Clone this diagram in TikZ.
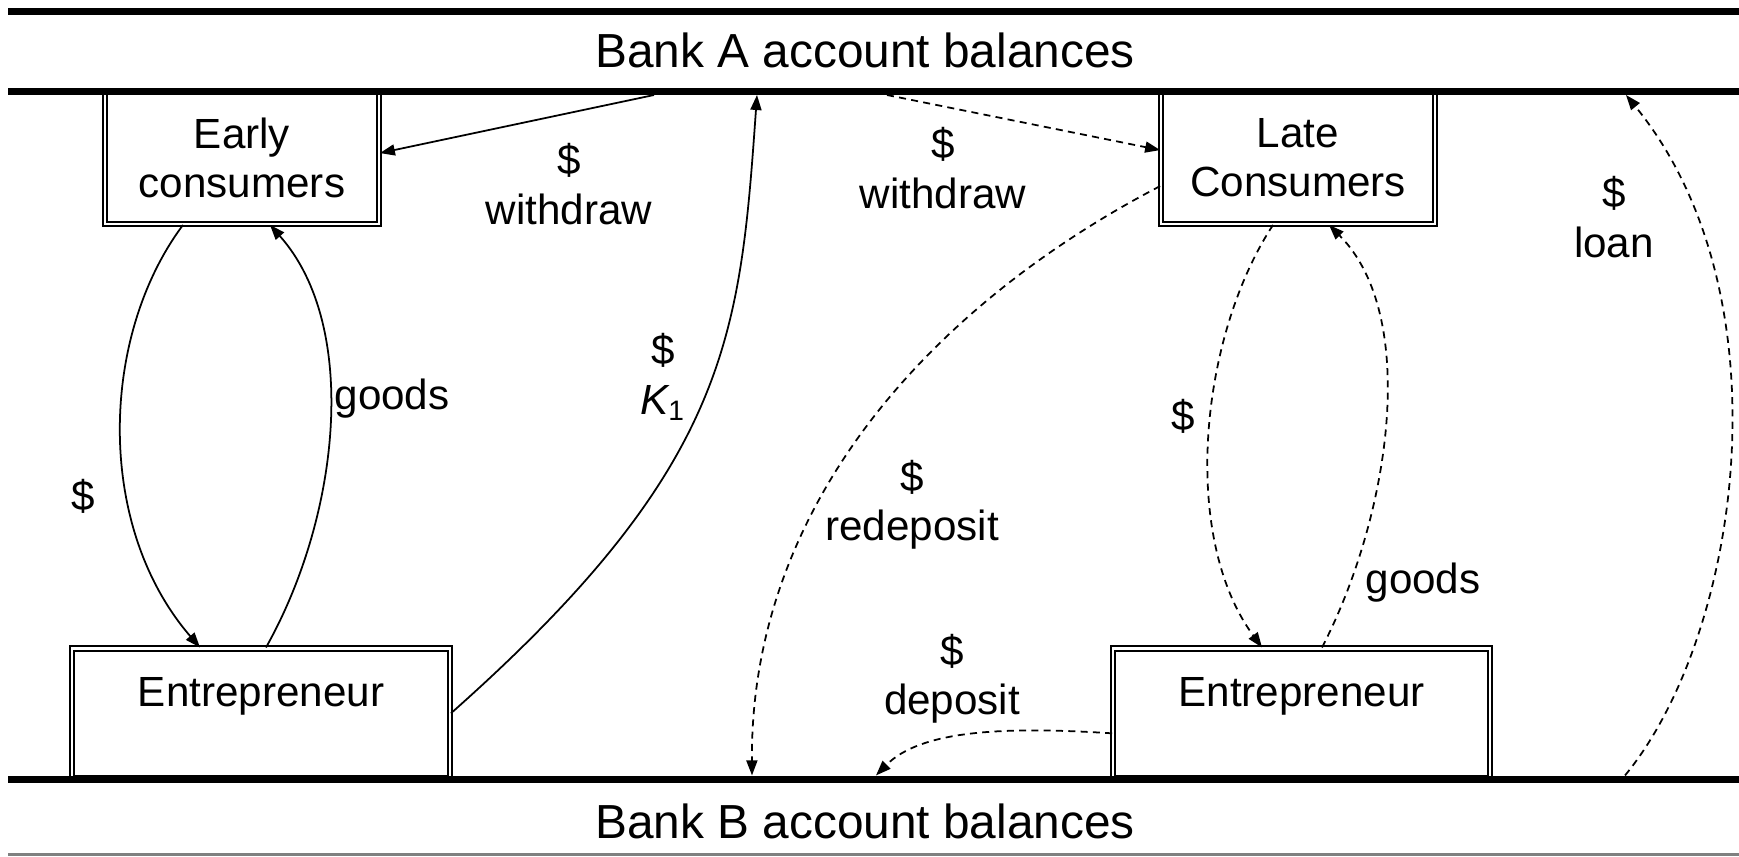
\documentclass[tikz,border=0pt]{standalone}
\usepackage{fontspec}
\setmainfont{Liberation Sans}
\usetikzlibrary{positioning,arrows.meta}

\begin{document}
\begin{tikzpicture}[
    acct/.style={line width=2.1pt},
    party/.style={draw, double, line width=0.5pt, double distance=0.8pt,
        align=center, font=\fontsize{12}{14}\selectfont},
    lbl/.style={align=center, font=\fontsize{12}{14}\selectfont},
    flow/.style={line width=0.5pt, -{Triangle[length=1.5mm,width=1.1mm]}},
    dflow/.style={flow, dash pattern=on 2pt off 1.5pt}
]
    \useasboundingbox (0,0) rectangle (17.39,8.56);

    % Consumers (hanging from bank A)
    \node[party, anchor=north, minimum width=2.74cm, minimum height=1.32cm] (early) at (2.42,7.648) {Early\\consumers};
    \node[party, anchor=north, minimum width=2.74cm, minimum height=1.32cm] (late) at (12.98,7.648) {Late\\Consumers};

    % Entrepreneurs (standing on bank B)
    \node[party, anchor=south, minimum width=3.78cm, minimum height=1.30cm, text height=9pt, text depth=13pt] (entL) at (2.61,0.768) {Entrepreneur};
    \node[party, anchor=south, minimum width=3.77cm, minimum height=1.30cm, text height=9pt, text depth=13pt] (entR) at (13.015,0.768) {Entrepreneur};

    % Bank account balances
    \draw[acct] (0.08,8.448) -- (17.39,8.448);
    \draw[acct] (0.08,7.648) -- (17.39,7.648);
    \node[font=\fontsize{13.6}{16}\selectfont] (bankA) at (8.65,8.06) {Bank A account balances};
    \draw[acct] (0.08,0.768) -- (17.39,0.768);
    \draw[gray, line width=0.6pt] (0.08,0.015) -- (17.39,0.015);
    \node[font=\fontsize{13.6}{16}\selectfont] (bankB) at (8.65,0.35) {Bank B account balances};

    % Points on the balance lines
    \coordinate (wdA) at (6.54,7.61);
    \coordinate (wdB) at (8.87,7.61);
    \coordinate (kTop) at (7.57,7.61);
    \coordinate (redep) at (7.52,0.806);
    \coordinate (dep) at (8.76,0.806);
    \coordinate (loanB) at (16.25,0.806);
    \coordinate (loanA) at (16.26,7.61);

    % Early side (solid)
    \draw[flow] (wdA) -- ([yshift=0.5mm]early.east);
    \draw[flow] ([xshift=-5.9mm]early.south) .. controls (1.0,5.2) and (0.95,3.3) .. ([xshift=-6.1mm]entL.north);
    \draw[flow] ([xshift=0.5mm]entL.north) .. controls (3.4,3.4) and (3.6,5.3) .. ([xshift=2.8mm]early.south);
    \draw[flow] (entL.east) .. controls (7.3,3.9) and (7.4,5.2) .. (kTop);

    % Late side (dashed)
    \draw[dflow] (wdB) -- ([yshift=0.8mm]late.west);
    \draw[dflow] ([yshift=-2.8mm]late.west) .. controls (9.3,5.5) and (7.5,3.5) .. (redep);
    \draw[dflow] ([xshift=-2.5mm]late.south) .. controls (12.0,5.2) and (11.8,3.2) .. ([xshift=-3.95mm]entR.north);
    \draw[dflow] ([xshift=2.05mm]entR.north) .. controls (13.9,3.4) and (14.2,5.4) .. ([xshift=3.1mm]late.south);
    \draw[dflow] ([yshift=-2mm]entR.west) .. controls (10.0,1.30) and (9.2,1.25) .. (dep);
    \draw[dflow] (loanB) .. controls (17.4,2.2) and (17.9,5.6) .. (loanA);

    % Labels
    \node[lbl] (lwdA) at (5.69,6.72) {\$\\withdraw};
    \node[lbl] (lwdB) at (9.43,6.88) {\$\\withdraw};
    \node[lbl] (lpayL) at (0.83,3.60) {\$};
    \node[lbl] (lgoodsL) at (3.92,4.57) {goods};
    \node[lbl] (lk) at (6.63,4.79) {\$\\{\itshape K}\textsubscript{1}};
    \node[lbl] (lredep) at (9.12,3.51) {\$\\redeposit};
    \node[lbl] (lpayR) at (11.83,4.40) {\$};
    \node[lbl] (lgoodsR) at (14.23,2.73) {goods};
    \node[lbl] (ldep) at (9.52,1.77) {\$\\deposit};
    \node[lbl] (lloan) at (16.14,6.39) {\$\\loan};
\end{tikzpicture}
\end{document}
